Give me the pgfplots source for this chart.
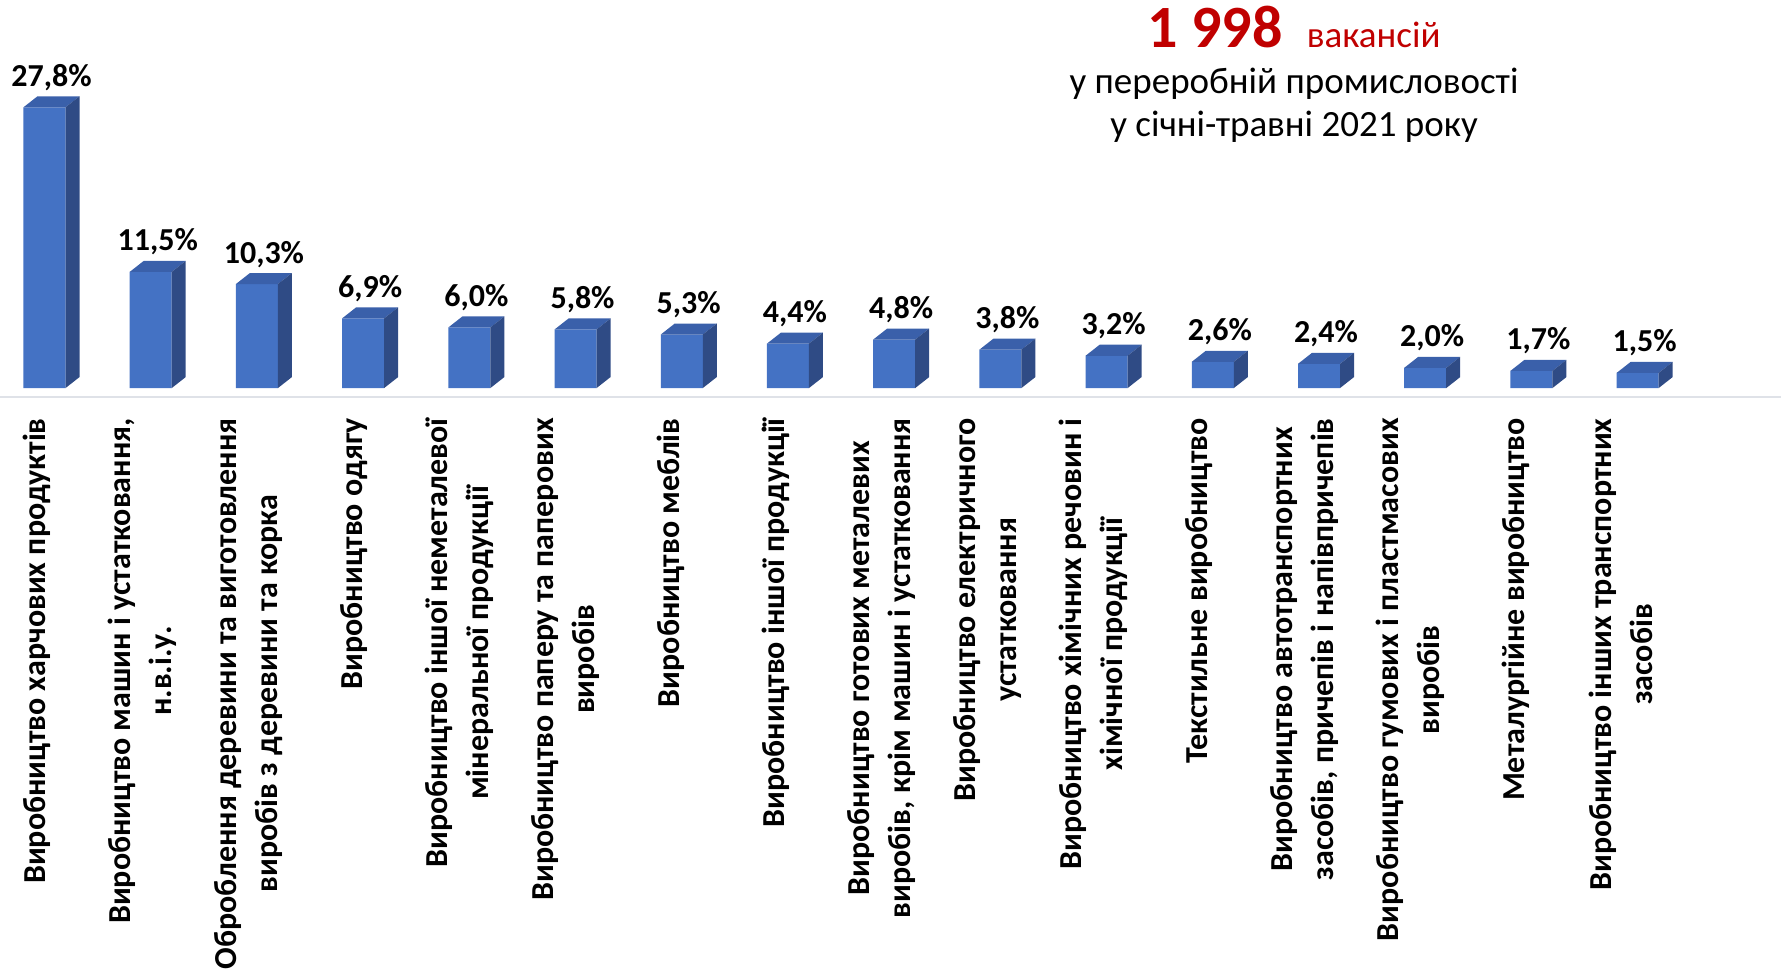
\documentclass[border=0pt]{standalone}
\usepackage{pgfplots}
\pgfplotsset{compat=1.18}
\usepackage{pgfplotstable}
\usepackage{fontspec}
\setmainfont{Carlito}
\definecolor{barfront}{HTML}{4472C4}
\definecolor{barside}{HTML}{2F4B85}
\definecolor{bartop}{HTML}{3A60AA}
\definecolor{redt}{HTML}{C00000}
\definecolor{axl}{HTML}{DFE2E8}

\pgfdeclareplotmark{prism}{%
 \pgfmathsetmacro\hh{\ry*10.1}%
 \pgfpathmoveto{\pgfpoint{-21pt}{0pt}}%
 \pgfpathlineto{\pgfpoint{21pt}{0pt}}%
 \pgfpathlineto{\pgfpoint{35pt}{11pt}}%
 \pgfpathlineto{\pgfpoint{-7pt}{11pt}}%
 \pgfpathclose
 \pgfsetfillcolor{bartop}\pgfusepath{fill}%
 \pgfpathmoveto{\pgfpoint{21pt}{0pt}}%
 \pgfpathlineto{\pgfpoint{35pt}{11pt}}%
 \pgfpathlineto{\pgfpoint{35pt}{11pt-\hh pt}}%
 \pgfpathlineto{\pgfpoint{21pt}{-\hh pt}}%
 \pgfpathclose
 \pgfsetfillcolor{barside}\pgfusepath{fill}%
}

\pgfplotstableread{
x y
0 27.8
1 11.5
2 10.3
3 6.9
4 6.0
5 5.8
6 5.3
7 4.4
8 4.8
9 3.8
10 3.2
11 2.6
12 2.4
13 2.0
14 1.7
15 1.5
}\datatab

\begin{document}
\begin{tikzpicture}
\begin{axis}[
  x=106.2pt, y=10.1pt,
  xmin=-0.419, xmax=16.35, ymin=-0.9, ymax=38.42,
  axis x line*=bottom, axis y line=none,
  axis line style={draw=axl, line width=2.5pt},
  xtick={-0.071,0.924,1.918,2.912,3.907,4.901,5.895,6.890,7.884,8.879,9.873,10.867,11.862,12.856,13.851,14.845},
  xticklabels={
    {Виробництво харчових продуктів},
    {Виробництво машин і устатковання,\\н.в.і.у.},
    {Оброблення деревини та виготовлення\\виробів з деревини та корка},
    {Виробництво одягу},
    {Виробництво іншої неметалевої\\мінеральної продукції},
    {Виробництво паперу та паперових\\виробів},
    {Виробництво меблів},
    {Виробництво іншої продукції},
    {Виробництво готових металевих\\виробів, крім машин і устатковання},
    {Виробництво електричного\\устатковання},
    {Виробництво хімічних речовин і\\хімічної продукції},
    {Текстильне виробництво},
    {Виробництво автотранспортних\\засобів, причепів і напівпричепів},
    {Виробництво гумових і пластмасових\\виробів},
    {Металургійне виробництво},
    {Виробництво інших транспортних\\засобів}
  },
  major tick length=0pt,
  xticklabel style={rotate=90, anchor=east, align=center, inner sep=0pt,
    font=\fontsize{32}{41}\selectfont\bfseries},
  xticklabel shift=21pt,
  clip=false,
]
\addplot[ybar, bar width=42pt, fill=barfront, draw=none,
  nodes near coords={\pgfmathprintnumber[fixed,fixed zerofill,precision=1,use comma,assume math mode=true]{\pgfplotspointmeta}\%},
  nodes near coords style={font=\fontsize{32}{32}\selectfont\bfseries, anchor=base, xshift=7pt, yshift=21pt, inner sep=0pt, text=black}]
  table[x=x,y=y]{\datatab};
\addplot[scatter, only marks, mark=prism,
  visualization depends on={\thisrow{y}\as\ry},
  scatter/@pre marker code/.code={},
  scatter/@post marker code/.code={}]
  table[x=x,y=y]{\datatab};
\node[anchor=base, text=redt, inner sep=0pt] at (axis cs:11.765,33.7)
  {{\fontsize{60}{62}\selectfont\bfseries 1 998}\hspace{24pt}{\fontsize{37}{40}\selectfont вакансій}};
\node[anchor=base, inner sep=0pt, font=\fontsize{37}{40}\selectfont] at (axis cs:11.765,29.21) {у переробній промисловості};
\node[anchor=base, inner sep=0pt, font=\fontsize{37}{40}\selectfont] at (axis cs:11.765,24.95) {у січні-травні 2021 року};
\coordinate (BL) at (axis cs:-0.419,-57.43);
\coordinate (TR) at (axis cs:16.35,38.42);
\end{axis}
\pgfresetboundingbox
\path[use as bounding box] (BL) rectangle (TR);
\end{tikzpicture}
\end{document}
